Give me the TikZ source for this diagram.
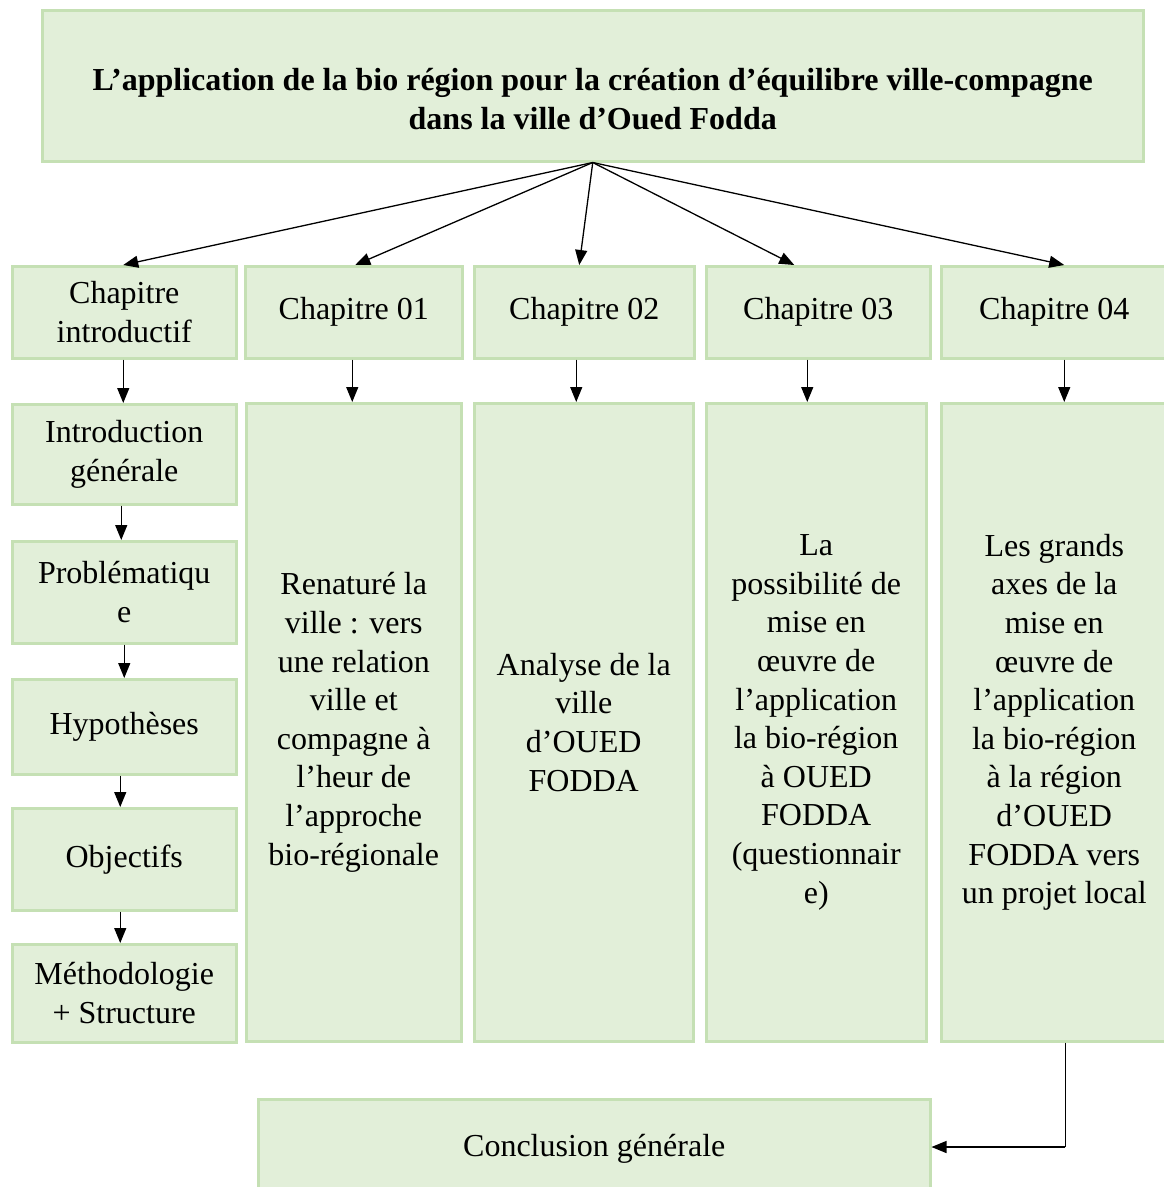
\documentclass[tikz,border=0pt]{standalone}
\usepackage{fontspec}
\setmainfont{Liberation Serif}
\usetikzlibrary{arrows.meta}
\definecolor{boxfill}{HTML}{E2EFD9}
\definecolor{boxline}{HTML}{C5E0B4}
\tikzset{
  box/.style={draw=boxline, fill=boxfill, line width=2.5pt, inner sep=0pt, align=center, anchor=north west,
    font=\fontsize{32}{38.6}\selectfont},
  arr/.style={line width=1.3pt, -{Triangle[length=15pt,width=12pt]}},
}
\begin{document}
\begin{tikzpicture}[x=1pt,y=-1pt]
\useasboundingbox (0,0) rectangle (1163,1187);
% title
\node[box, minimum width=1101pt, minimum height=151pt] (title) at (41,9) {};
\node[align=center, inner sep=0pt, font=\fontsize{32}{39}\selectfont\bfseries] (titletext) at ([yshift=-13pt]title.center)
  {L’application de la bio région pour la création d’équilibre ville-compagne\\dans la ville d’Oued Fodda};
% chapter row
\node[box, minimum width=224pt, minimum height=92pt] (ci) at (11,265) {Chapitre\\introductif};
\node[box, minimum width=217pt, minimum height=92pt] (c1) at (244,265) {Chapitre 01};
\node[box, minimum width=220pt, minimum height=92pt] (c2) at (473,265) {Chapitre 02};
\node[box, minimum width=224pt, minimum height=92pt] (c3) at (705,265) {Chapitre 03};
\node[box, minimum width=226pt, minimum height=92pt] (c4) at (940,265) {Chapitre 04};
% left column
\node[box, minimum width=224pt, minimum height=100pt] (ig) at (11,403) {Introduction\\générale};
\node[box, minimum width=224pt, minimum height=102pt] (pb) at (11,540) {Problématiqu\\e};
\node[box, minimum width=224pt, minimum height=95pt] (hy) at (11,678) {Hypothèses};
\node[box, minimum width=224pt, minimum height=102pt] (ob) at (11,807) {Objectifs};
\node[box, minimum width=224pt, minimum height=98pt] (me) at (11,943) {Méthodologie\\+ Structure};
% big boxes
\node[box, minimum width=215pt, minimum height=638pt] (b1) at (245,402)
  {Renaturé la\\ville : vers\\une relation\\ville et\\compagne à\\l’heur de\\l’approche\\bio-régionale};
\node[box, minimum width=219pt, minimum height=638pt] (b2) at (473,402)
  {Analyse de la\\ville\\d’OUED\\FODDA};
\node[box, minimum width=220pt, minimum height=638pt] (b3) at (705,402)
  {La\\possibilité de\\mise en\\œuvre de\\l’application\\la bio-région\\à OUED\\FODDA\\(questionnair\\e)};
\node[box, minimum width=226pt, minimum height=638pt] (b4) at (940,402)
  {Les grands\\axes de la\\mise en\\œuvre de\\l’application\\la bio-région\\à la région\\d’OUED\\FODDA vers\\un projet local};
% conclusion
\node[box, minimum width=672pt, minimum height=100pt] (cg) at (257,1098) {Conclusion générale};
% arrows from title
\draw[arr] (title.south) -- ([xshift=-1pt]ci.north);
\draw[arr] (title.south) -- ([xshift=1.5pt]c1.north);
\draw[arr] (title.south) -- ([xshift=-5pt]c2.north);
\draw[arr] (title.south) -- ([xshift=-24pt]c3.north);
\draw[arr] (title.south) -- ([xshift=10pt]c4.north);
% chapter to content
\draw[arr] ([xshift=-1pt]ci.south) -- ([xshift=-1pt]ig.north);
\draw[arr] ([xshift=-1.5pt]c1.south) -- ([xshift=-1.5pt]c1.south |- b1.north);
\draw[arr] ([xshift=-8pt]c2.south) -- ([xshift=-8pt]c2.south |- b2.north);
\draw[arr] ([xshift=-11pt]c3.south) -- ([xshift=-11pt]c3.south |- b3.north);
\draw[arr] ([xshift=10pt]c4.south) -- ([xshift=10pt]c4.south |- b4.north);
% left column chain
\draw[arr] ([xshift=-3pt]ig.south) -- ([xshift=-3pt]pb.north);
\draw[arr] (pb.south) -- (hy.north);
\draw[arr] ([xshift=-4pt]hy.south) -- ([xshift=-4pt]ob.north);
\draw[arr] ([xshift=-4pt]ob.south) -- ([xshift=-4pt]me.north);
% conclusion connector
\coordinate (k) at ([xshift=11pt]b4.south |- 0,1147);
\draw[line width=1.3pt] ([xshift=11pt]b4.south) -- (k);
\draw[arr] (k) -- (cg.east |- k);
\end{tikzpicture}
\end{document}
